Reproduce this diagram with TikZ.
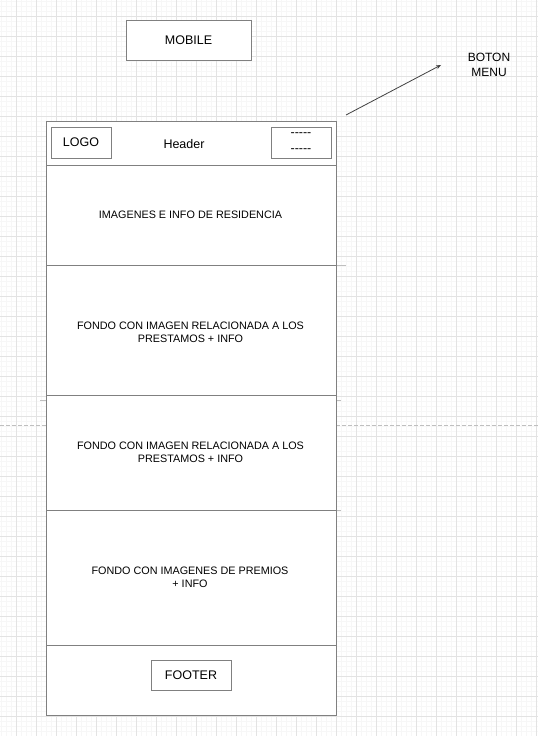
\documentclass[tikz,border=0pt]{standalone}
\usepackage{fontspec}
\setmainfont{Liberation Sans}
\usetikzlibrary{arrows.meta}
\begin{document}
\begin{tikzpicture}[x=1pt,y=-1pt,
  box/.style={draw=black!50, line width=1pt, fill=white},
  txt/.style={font=\fontsize{10.8}{13}\selectfont, align=center, inner sep=0pt},
  big/.style={font=\fontsize{12.5}{15}\selectfont, align=center, inner sep=0pt},
  tick/.style={draw=black!25, line width=1pt}]
\useasboundingbox (0,0) rectangle (538,736);
% grid
\foreach \i in {0,...,108}{\draw[black!3, line width=0.5pt] (\i*5+1,0) -- (\i*5+1,736);}
\foreach \i in {0,...,147}{\draw[black!3, line width=0.5pt] (0,\i*5+1) -- (538,\i*5+1);}
\foreach \i in {0,...,26}{\draw[black!11, line width=0.8pt] (\i*20+16,0) -- (\i*20+16,736);}
\foreach \i in {0,...,36}{\draw[black!11, line width=0.8pt] (0,\i*20+16) -- (538,\i*20+16);}
% dashed line
\coordinate (dl) at (0,425);
\coordinate (dr) at (538,425);
\draw[black!25, line width=0.8pt, dash pattern=on 3.5pt off 2.5pt] (dl) -- (dr);
% small ticks
\draw[tick] (336,265) -- (346,265);
\draw[tick] (336,400) -- (341,400);
\draw[tick] (40,400) -- (46,400);
\draw[tick] (336,510) -- (341,510);
% mobile frame
\draw[box] (46,121) rectangle (336,715);
\foreach \y in {165,265,395,510,645}{\draw[black!50, line width=1pt] (46,\y) -- (336,\y);}
% MOBILE label
\node[box, minimum width=125pt, minimum height=40pt, inner sep=0pt, big] (mobile) at (188.5,40) {MOBILE};
% header
\node[box, minimum width=60pt, minimum height=31pt, inner sep=0pt, big] (logo) at (81,142.5) {LOGO};
\node[big] (header) at (184,144) {Header};
\node[box, minimum width=60pt, minimum height=31pt, inner sep=0pt] (menu) at (301,142.5) {};
\node[big] (d1) at (301,134.5) {{-}{-}{-}{-}{-}};
\node[big] (d2) at (301,151) {{-}{-}{-}{-}{-}};
% sections
\node[txt] (s1) at (190.5,215) {IMAGENES E INFO DE RESIDENCIA};
\node[txt] (s2) at (190.5,332.5) {FONDO CON IMAGEN RELACIONADA A LOS\\PRESTAMOS + INFO};
\node[txt] (s3) at (190.5,452.5) {FONDO CON IMAGEN RELACIONADA A LOS\\PRESTAMOS + INFO};
\node[txt] (s4) at (190,577.5) {FONDO CON IMAGENES DE PREMIOS\\+ INFO};
\node[box, minimum width=80pt, minimum height=30pt, inner sep=0pt, big] (footer) at (191,675) {FOOTER};
% boton menu
\node[big, font=\fontsize{12}{15.5}\selectfont] (boton) at (489,65) {BOTON\\MENU};
\coordinate (as) at (346,115);
\coordinate (ae) at (441,65);
\draw[black!75, line width=0.8pt, -{Stealth[length=5pt,width=4pt]}] (as) -- (ae);
\end{tikzpicture}
\end{document}
